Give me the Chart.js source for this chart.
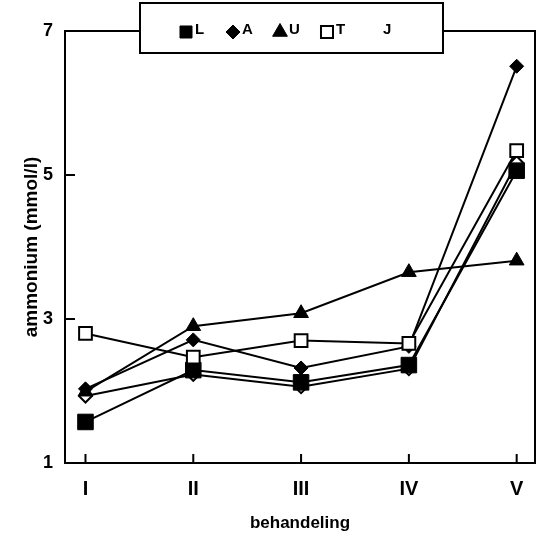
<!DOCTYPE html>
<html>
<head>
<meta charset="utf-8">
<script src="https://cdn.jsdelivr.net/npm/chart.js@4.4.1/dist/chart.umd.min.js"></script>
<style>html,body{margin:0;padding:0;background:#fff}</style>
</head>
<body>
<canvas id="chart" width="547" height="534"></canvas>
<script>
// --- Data ---
const treatments = [1, 2, 3, 4, 5];
const treatmentLabels = ['I', 'II', 'III', 'IV', 'V'];
const seriesL = [1.57, 2.29, 2.12, 2.36, 5.06];
const seriesA = [2.03, 2.71, 2.32, 2.62, 6.51];
const seriesU = [1.99, 2.90, 3.08, 3.65, 3.81];
const seriesT = [2.80, 2.47, 2.70, 2.66, 5.34];
const seriesJ = [1.93, 2.23, 2.06, 2.31, 5.17];
const yTicks = [1, 3, 5, 7];
const legendOrder = ['L', 'A', 'U', 'T', 'J'];

const FONT = '"Liberation Sans", Arial, sans-serif';
const toPoints = (vals) => vals.map((v, i) => ({ x: treatments[i], y: v }));

// datasets listed top-most first (Chart.js draws index 0 last)
const datasets = [
    { label: 'T', data: toPoints(seriesT), pointStyle: 'rect', pointRadius: 9, pointBackgroundColor: '#fff', pointBorderWidth: 2 },
    { label: 'A', data: toPoints(seriesA), pointStyle: 'rectRot', pointRadius: 7, pointBackgroundColor: '#000', pointBorderWidth: 1 },
    { label: 'U', data: toPoints(seriesU), pointStyle: 'triangle', pointRadius: 8.5, pointBackgroundColor: '#000', pointBorderWidth: 1 },
    { label: 'L', data: toPoints(seriesL), pointStyle: 'rect', pointRadius: 11, pointBackgroundColor: '#000', pointBorderWidth: 1 },
    { label: 'J', data: toPoints(seriesJ), pointStyle: 'rectRot', pointRadius: 6.5, pointBackgroundColor: '#fff', pointBorderWidth: 2, legendHidden: true },
].map(ds => Object.assign({
    borderColor: '#000', pointBorderColor: '#000', borderWidth: 2, tension: 0, fill: false
}, ds));

// frame, inward ticks and the boxed legend
const framePlugin = {
    id: 'frame',
    afterDraw(chart) {
        const { ctx, chartArea: a, scales } = chart;
        ctx.save();
        ctx.strokeStyle = '#000';
        ctx.lineWidth = 2;
        ctx.strokeRect(a.left, a.top, a.right - a.left, a.bottom - a.top);
        ctx.beginPath();
        yTicks.forEach(v => {
            const y = scales.y.getPixelForValue(v);
            ctx.moveTo(a.left, y); ctx.lineTo(a.left + 10, y);
        });
        treatments.forEach(v => {
            const x = scales.x.getPixelForValue(v);
            ctx.moveTo(x, a.bottom); ctx.lineTo(x, a.bottom - 9);
        });
        ctx.stroke();

        // legend box
        const bx = 140, by = 3, bw = 303, bh = 50;
        ctx.fillStyle = '#fff';
        ctx.fillRect(bx, by, bw, bh);
        ctx.strokeRect(bx, by, bw, bh);
        ctx.font = 'bold 15px ' + FONT;
        ctx.textBaseline = 'middle';
        ctx.textAlign = 'left';
        legendOrder.forEach((name, i) => {
            const ds = chart.data.datasets.find(d => d.label === name);
            const mx = 186 + i * 47, my = 32;
            if (!ds.legendHidden) {
                ctx.fillStyle = ds.pointBackgroundColor;
                ctx.strokeStyle = '#000';
                ctx.lineWidth = ds.pointBorderWidth;
                Chart.helpers.drawPoint(ctx, {
                    pointStyle: ds.pointStyle, radius: Math.min(ds.pointRadius, 8.5),
                    rotation: 0, borderWidth: ds.pointBorderWidth
                }, mx, my);
            }
            ctx.fillStyle = '#000';
            ctx.fillText(name, mx + (ds.legendHidden ? 9 : 9), 30);
        });
        ctx.restore();
    }
};

new Chart(document.getElementById('chart'), {
    type: 'line',
    data: { datasets },
    options: {
        responsive: false,
        animation: false,
        layout: { padding: { top: 31, right: 2, left: 0, bottom: 0 } },
        plugins: { legend: { display: false }, tooltip: { enabled: false } },
        scales: {
            x: {
                type: 'linear', min: 0.81, max: 5.17,
                border: { display: false },
                grid: { display: false, drawTicks: false },
                afterBuildTicks: s => { s.ticks = treatments.map(v => ({ value: v })); },
                afterFit: s => { s.height = 71; },
                ticks: {
                    autoSkip: false, maxRotation: 0, padding: 14, color: '#000',
                    font: { family: FONT, size: 20, weight: 'bold' },
                    callback: v => treatmentLabels[v - 1] ?? ''
                },
                title: {
                    display: true, text: 'behandeling', color: '#000',
                    font: { family: FONT, size: 17, weight: 'bold' },
                    padding: { top: 0, bottom: 0 }
                }
            },
            y: {
                min: 1, max: 7,
                border: { display: false },
                grid: { display: false, drawTicks: false },
                afterBuildTicks: s => { s.ticks = yTicks.map(v => ({ value: v })); },
                afterFit: s => { s.width = 65; },
                ticks: {
                    padding: 12, color: '#000',
                    font: { family: FONT, size: 18, weight: 'bold' }
                },
                title: {
                    display: true, text: 'ammonium (mmol/l)', color: '#000',
                    font: { family: FONT, size: 19, weight: 'bold' },
                    padding: { top: 20, bottom: 0 }
                }
            }
        }
    },
    plugins: [framePlugin]
});
</script>
</body>
</html>
